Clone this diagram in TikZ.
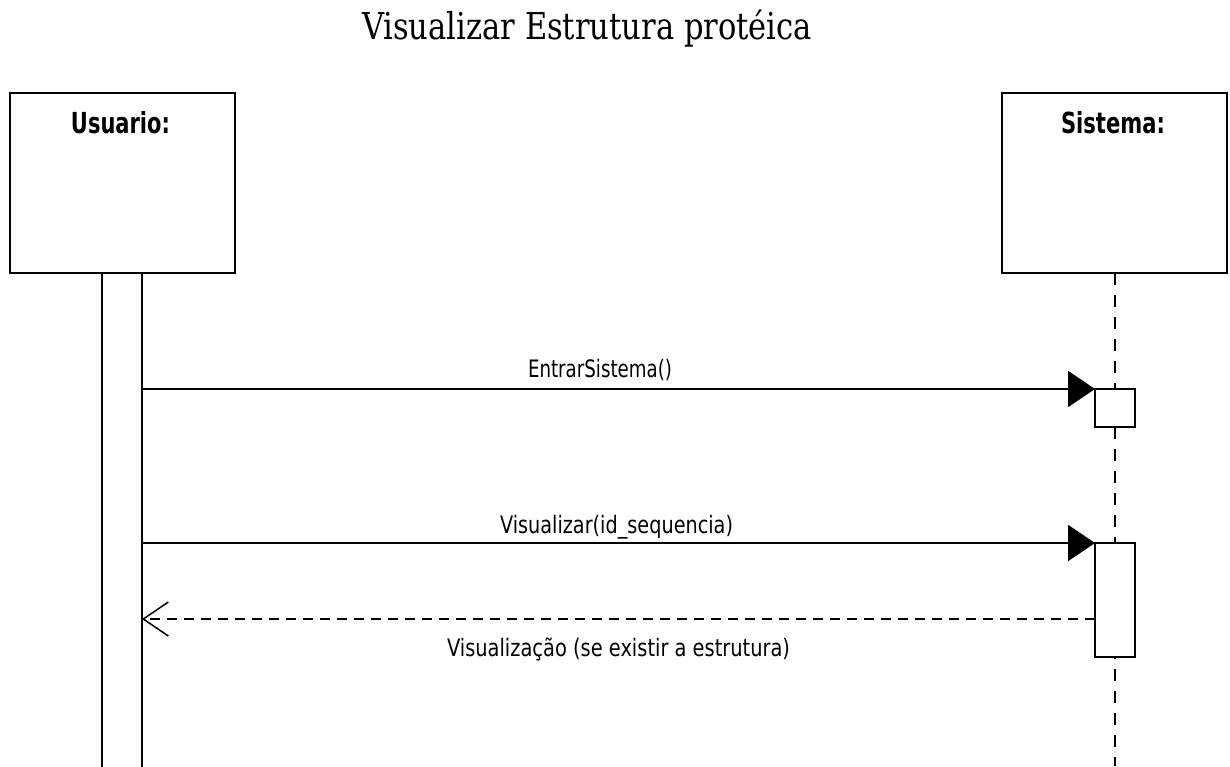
\documentclass[tikz,border=0pt]{standalone}
\usepackage{fontspec}
\setmainfont{DejaVu Serif}
\newfontfamily\msgfont{DejaVu Sans}
\usetikzlibrary{arrows.meta}
% set a text at a given width, keeping its natural height
\newcommand{\fitw}[2]{\resizebox{#1}{\height}{#2}}
\begin{document}
\begin{tikzpicture}[x=1pt,y=-1pt,
  every node/.style={inner sep=0pt, outer sep=0pt},
  objbox/.style={draw, line width=2pt, fill=white, minimum width=225pt, minimum height=180pt},
  actbox/.style={draw, line width=2pt, fill=white, minimum width=40pt},
  objlabel/.style={anchor=base, font=\msgfont\bfseries\fontsize{29}{34}\selectfont},
  msglabel/.style={anchor=base, font=\msgfont\fontsize{24}{28}\selectfont},
  lifeline/.style={line width=2pt, dash pattern=on 12pt off 10pt},
  callmsg/.style={line width=2pt, -{Triangle[length=27pt,width=36pt]}},
  retmsg/.style={line width=2pt, dash pattern=on 10pt off 7pt,
    -{Straight Barb[length=25pt,width=34pt,line width=1.5pt]}}]
\useasboundingbox (0,0) rectangle (1230,766);
\fill[white] (0,0) rectangle (1230,766);

% title
\node[anchor=base] (title) at (587,39)
  {\fitw{450pt}{\fontsize{37}{44}\selectfont Visualizar Estrutura protéica}};

% objects
\node[objbox] (usr) at (122.5,183) {};
\node[objbox] (sys) at (1114.5,183) {};
\node[objlabel] (usrlbl) at (120.5,133) {\fitw{99pt}{Usuario:}};
\node[objlabel] (syslbl) at (1113,133) {\fitw{104pt}{Sistema:}};

% lifelines
\node[draw, line width=2pt, fill=white, minimum width=40pt, minimum height=520pt, anchor=north]
  (ubar) at (122,273) {};
\coordinate (sysend) at (1115,766);
\draw[lifeline] (sys.south) -- (sys.south |- sysend);

% activations
\node[actbox, minimum height=38pt] (act1) at (1115,408) {};
\node[actbox, minimum height=114pt] (act2) at (1115,600) {};

% messages
\draw[callmsg] (ubar.east |- act1.north) -- (act1.north west);
\node[msglabel] (m1) at (600,377) {\fitw{144pt}{EntrarSistema()}};

\draw[callmsg] (ubar.east |- act2.north) -- (act2.north west);
\node[msglabel] (m2) at (616.5,533) {\fitw{233pt}{Visualizar(id\_sequencia)}};

\coordinate (ret) at (0,619);
\draw[retmsg] (act2.west |- ret) -- (ubar.east |- ret);
\node[msglabel] (m3) at (618.5,656) {\fitw{343pt}{Visualização (se existir a estrutura)}};
\end{tikzpicture}
\end{document}
